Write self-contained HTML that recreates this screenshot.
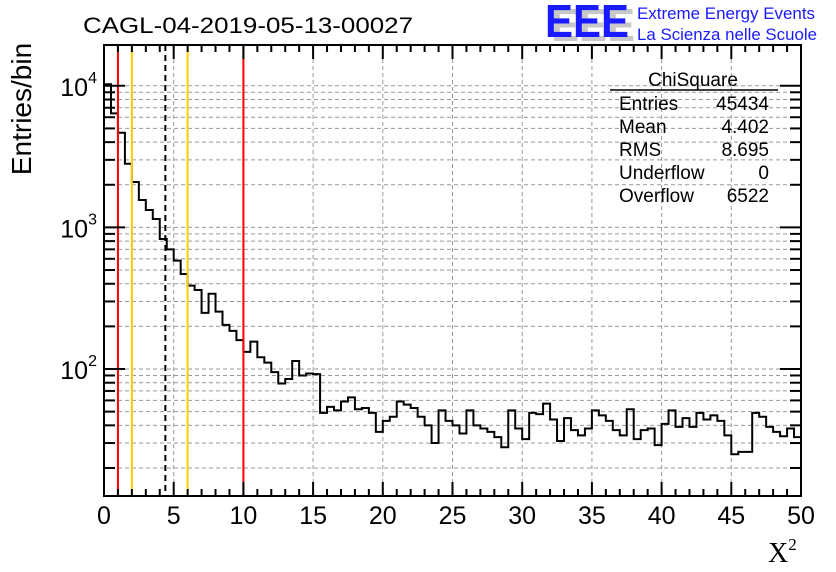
<!DOCTYPE html>
<html><head><meta charset="utf-8"><style>
html,body{margin:0;padding:0;background:#fff;}
svg{display:block;font-family:"Liberation Sans",sans-serif;}
</style></head><body>
<svg id="chart" width="836" height="572" viewBox="0 0 836 572" xmlns="http://www.w3.org/2000/svg">
<g id="grid"></g>
<g id="marks"></g>
<g id="axes"></g>
<text x="83" y="33" font-size="22" textLength="330" lengthAdjust="spacingAndGlyphs">CAGL-04-2019-05-13-00027</text>
<text transform="translate(31,109) rotate(-90)" text-anchor="middle" font-size="28">Entries/bin</text>
<text x="768" y="562" font-size="28" font-family="Liberation Serif,serif">X<tspan font-size="17" dy="-12">2</tspan></text>
<g>
<text x="551" y="41" font-size="46" font-weight="bold" fill="#c8c8c8" textLength="84" lengthAdjust="spacingAndGlyphs">EEE</text>
<text x="545" y="37" font-size="46" font-weight="bold" fill="#1a1aff" textLength="84" lengthAdjust="spacingAndGlyphs">EEE</text>
<text x="637" y="19" font-size="17" fill="#1a1aff" textLength="178" lengthAdjust="spacingAndGlyphs">Extreme Energy Events</text>
<text x="637" y="40" font-size="17" fill="#1a1aff" textLength="180" lengthAdjust="spacingAndGlyphs">La Scienza nelle Scuole</text>
</g>
<g font-size="19">
<text x="693" y="86" text-anchor="middle">ChiSquare</text>
<line x1="610" y1="90" x2="778" y2="90" stroke="#000" stroke-width="1.5"/>
<text x="619" y="110">Entries</text><text x="769" y="110" text-anchor="end">45434</text>
<text x="619" y="133">Mean</text><text x="769" y="133" text-anchor="end">4.402</text>
<text x="619" y="156">RMS</text><text x="769" y="156" text-anchor="end">8.695</text>
<text x="619" y="179">Underflow</text><text x="769" y="179" text-anchor="end">0</text>
<text x="619" y="202">Overflow</text><text x="769" y="202" text-anchor="end">6522</text>
</g>
</svg>
<script>
const binWidth = 0.5;
const counts = [10250,6390,4665,2818,2092,1561,1327,1146,828,700,582,469,388,361,249,340,254,205,186,160,132,156,121,111,95,79,85,114,90,93,92,49,54,51,59,63,52,53,49,36,43,46,59,56,53,46,40,30,51,43,40,35,51,40,38,36,33,28,51,38,32,49,48,57,44,31,45,37,34,38,51,47,43,37,34,52,32,37,38,29,41,51,39,45,39,49,44,47,43,34,25,26,26,49,46,39,36,33.5,38,33];
const xTicks = [0,5,10,15,20,25,30,35,40,45,50];
const yDecades = [100,1000,10000];
const yDecadeLabels = ["2","3","4"];
const redLines = [1,10];
const yellowLines = [2,6];
const meanValue = 4.402;

const L=104,R=801,T=45,B=496, XMIN=0,XMAX=50;
const Y0=369, DEC=141.6;
const xs=v=>L+(v-XMIN)/(XMAX-XMIN)*(R-L);
const ys=v=>Y0-(Math.log10(v)-2)*DEC;
const yMin=Math.pow(10,2-(B-Y0)/DEC), yMax=Math.pow(10,2+(Y0-T)/DEC);
const NS='http://www.w3.org/2000/svg';
function mk(tag,attrs,parent){const e=document.createElementNS(NS,tag);for(const k in attrs)e.setAttribute(k,attrs[k]);parent.appendChild(e);return e;}
const grid=document.getElementById('grid'),marks=document.getElementById('marks'),axes=document.getElementById('axes');
xTicks.forEach(t=>{if(t>XMIN&&t<XMAX){const l=mk('line',{x1:xs(t),x2:xs(t),y1:T,y2:B,stroke:'#999','stroke-dasharray':'4,3','stroke-width':1},grid);

}});
for(let d=1;d<=10000;d*=10){for(let m=1;m<10;m++){const v=d*m;if(v>yMin&&v<yMax){const l=mk('line',{x1:L,x2:R,y1:ys(v),y2:ys(v),stroke:'#999','stroke-dasharray':'4,3','stroke-width':1},grid);

}}}
let d='M'+xs(0)+','+B;
counts.forEach((c,i)=>{const y=Math.max(T,Math.min(B,ys(c)));d+=' L'+xs(i*binWidth)+','+y+' L'+xs((i+1)*binWidth)+','+y;});
const h=mk('path',{d:d,fill:'none',stroke:'#000','stroke-width':2},marks);


redLines.forEach(v=>{const l=mk('line',{x1:xs(v),x2:xs(v),y1:T,y2:B,stroke:'#ff0000','stroke-width':2},marks);

});
yellowLines.forEach(v=>{const l=mk('line',{x1:xs(v),x2:xs(v),y1:T,y2:B,stroke:'#ffcc00','stroke-width':2},marks);

});
const ml=mk('line',{x1:xs(meanValue),x2:xs(meanValue),y1:T,y2:B,stroke:'#000','stroke-width':2,'stroke-dasharray':'6,4'},marks);


const fr=mk('rect',{x:L,y:T,width:R-L,height:B-T,fill:'none',stroke:'#000','stroke-width':2},axes);


for(let t=XMIN;t<=XMAX;t++){const major=t%5===0;const len=major?14:7;
mk('line',{x1:xs(t),x2:xs(t),y1:B,y2:B-len,stroke:'#000','stroke-width':2},axes);
mk('line',{x1:xs(t),x2:xs(t),y1:T,y2:T+len,stroke:'#000','stroke-width':2},axes);}
xTicks.forEach(t=>{const tx=mk('text',{x:xs(t),y:524,'text-anchor':'middle','font-size':25},axes);tx.textContent=String(t);

});
for(let dd=10;dd<=10000;dd*=10){for(let m=1;m<10;m++){const v=dd*m;if(v>yMin&&v<yMax){const len=m===1?21:11;
mk('line',{x1:L,x2:L+len,y1:ys(v),y2:ys(v),stroke:'#000','stroke-width':2},axes);
mk('line',{x1:R,x2:R-len,y1:ys(v),y2:ys(v),stroke:'#000','stroke-width':2},axes);}}}
yDecades.forEach((v,i)=>{const tx=mk('text',{x:L-7,y:ys(v)+10,'text-anchor':'end','font-size':25},axes);


tx.appendChild(document.createTextNode('10'));
const sp=mk('tspan',{dy:-13,'font-size':16},tx);sp.textContent=yDecadeLabels[i];});
</script>
</body></html>
